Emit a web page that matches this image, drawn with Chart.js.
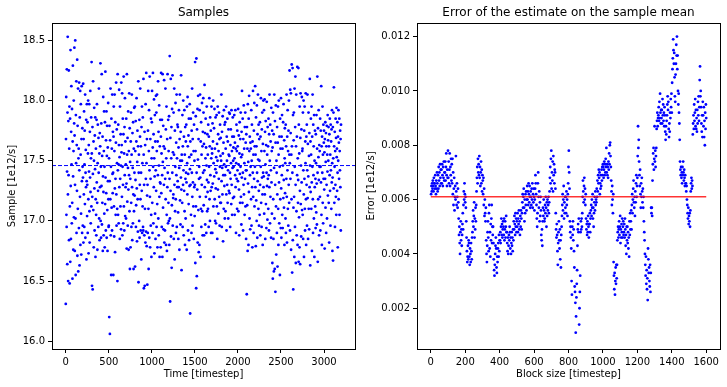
<!DOCTYPE html>
<html>
<head>
<meta charset="utf-8">
<script src="https://cdn.jsdelivr.net/npm/chart.js@4.4.0/dist/chart.umd.min.js"></script>
<style>
  html, body { margin: 0; padding: 0; background: #fff; }
  #wrap { position: relative; width: 727px; height: 387px; }
  canvas { position: absolute; top: 0; }
</style>
</head>
<body>
<div id="wrap">
  <canvas id="samplesChart" width="363" height="387" style="left:0"></canvas>
  <canvas id="errorChart" width="364" height="387" style="left:363px"></canvas>
</div>
<script>
// left panel: one sample every 2.5 timesteps (20 per row = 50 timesteps)
var sampleStep = 2.5;
var sampleValues = [
  16.31,17.68,18.03,17.05,16.95,18.26,17.41,16.64,17.90,18.53,17.22,16.50,17.83,17.38,18.25,16.84,17.60,17.95,16.48,17.12,
  17.85,16.66,18.42,17.29,16.85,17.74,18.12,17.47,16.98,17.93,17.15,16.52,17.66,18.29,17.37,16.76,17.58,18.00,17.03,17.81,
  18.44,17.71,16.75,17.30,18.50,17.02,16.55,17.88,17.48,18.16,16.90,17.63,17.25,18.34,16.71,17.79,17.10,18.10,16.58,17.52,
  17.60,16.94,18.15,17.42,16.63,17.86,17.20,18.08,16.80,17.55,17.97,17.06,16.72,17.68,18.12,17.33,16.90,17.77,17.45,16.96,
  17.36,18.14,16.82,17.68,17.22,17.91,16.95,17.47,17.75,17.14,18.05,16.86,17.40,17.59,17.28,17.84,16.68,17.33,17.97,17.04,
  17.30,17.82,16.90,17.56,18.00,17.18,16.73,17.63,17.41,17.97,17.08,16.82,17.74,17.36,18.08,17.24,16.98,17.52,17.86,17.12,
  18.32,17.56,16.46,17.20,17.78,16.43,17.39,18.16,17.09,17.66,16.78,17.50,17.94,17.27,16.92,17.71,17.43,17.86,16.70,17.18,
  17.60,17.05,16.88,17.84,17.32,17.97,17.15,16.76,17.48,17.80,17.25,16.95,17.69,17.40,18.10,17.02,17.56,16.84,17.73,17.28,
  17.62,18.31,17.00,17.45,16.86,17.81,17.29,18.22,16.97,17.54,17.15,17.70,16.75,17.37,18.03,17.24,16.88,17.58,17.91,17.06,
  17.45,16.78,17.82,17.14,18.24,17.36,16.92,17.67,17.23,17.91,16.86,17.54,17.79,17.09,16.75,17.61,17.33,17.98,17.18,16.95,
  16.96,17.52,16.20,17.79,17.33,16.06,17.67,17.18,18.10,16.88,17.45,16.55,17.85,17.11,17.60,16.92,18.05,17.39,17.23,17.74,
  17.40,16.55,17.70,17.95,17.12,16.87,17.58,18.05,17.27,16.74,17.82,17.35,17.05,17.65,18.15,17.22,16.96,17.76,17.48,17.10,
  16.50,18.22,17.42,17.05,17.80,17.47,16.98,17.63,18.09,17.28,17.53,16.85,17.95,17.35,17.12,17.72,17.46,16.93,18.15,17.57,
  17.63,17.20,18.06,16.88,17.45,17.85,17.30,16.98,17.72,18.20,17.12,17.56,16.92,17.78,17.38,18.02,17.04,17.66,17.28,17.47,
  17.02,17.85,17.31,16.77,18.22,17.55,17.16,17.69,16.96,17.44,17.91,17.26,16.76,17.58,17.38,18.06,17.08,17.77,16.60,17.49,
  17.35,16.78,17.66,17.90,17.15,16.95,17.55,18.05,17.28,16.84,17.73,17.44,16.98,17.82,17.22,16.60,17.60,17.08,17.94,17.40,
  17.21,17.95,16.62,17.58,17.34,17.83,16.95,17.13,17.66,18.02,17.27,16.83,17.49,17.75,17.18,16.91,17.62,18.16,16.49,17.40,
  17.55,17.00,17.84,16.86,17.30,17.70,18.10,17.18,16.92,17.62,17.40,16.68,17.78,17.25,17.95,16.90,17.48,17.12,17.86,16.95,
  16.92,18.18,17.55,16.44,17.30,16.88,17.74,16.46,17.10,17.63,16.82,17.97,17.35,16.91,18.23,17.48,16.79,17.68,17.21,16.47,
  17.30,16.90,17.75,18.08,17.10,16.60,17.58,17.92,16.86,17.42,18.20,17.20,16.78,17.68,17.35,16.96,17.85,17.05,16.70,17.52,
  17.82,18.08,17.15,16.90,17.61,18.23,17.45,16.98,17.72,17.28,18.01,17.52,16.73,17.37,17.88,17.06,17.66,16.85,17.42,18.04,
  17.25,17.90,16.95,17.58,18.05,17.14,16.78,17.66,17.38,18.16,17.02,17.74,16.88,17.46,17.96,17.20,16.70,17.62,17.32,17.84,
  17.31,16.78,17.70,18.23,17.23,17.56,16.95,17.84,17.38,16.70,18.22,17.49,17.11,17.79,16.93,17.62,17.30,18.17,16.82,17.44,
  17.60,16.92,17.35,18.10,17.18,17.76,16.80,17.52,17.95,17.05,16.75,17.68,17.28,18.22,17.40,16.98,17.84,17.15,17.58,17.00,
  17.87,16.80,17.35,18.37,17.02,16.33,17.69,17.25,18.18,16.87,17.52,17.78,16.61,17.13,17.93,17.40,18.21,16.96,17.57,17.19,
  17.22,17.90,16.85,17.55,18.10,17.30,16.68,17.75,17.08,17.45,17.98,17.18,16.90,17.65,17.38,18.05,16.95,17.52,17.28,17.80,
  17.33,17.78,17.07,16.85,17.61,17.28,17.92,17.44,16.76,17.68,18.05,17.17,17.50,16.97,17.74,17.36,18.21,17.26,16.59,17.55,
  17.50,17.15,17.88,16.95,17.62,17.30,18.00,17.42,16.88,17.70,17.25,17.92,17.08,17.55,16.80,17.78,17.35,17.02,17.66,17.40,
  17.80,17.32,16.76,17.95,17.48,17.22,18.03,17.62,16.92,17.39,17.71,17.14,17.85,16.84,17.53,17.29,17.97,17.43,16.23,17.66,
  17.30,17.85,17.05,17.55,16.90,17.75,17.40,18.10,17.20,16.96,17.68,17.32,17.90,17.12,17.58,16.85,17.80,17.28,17.50,17.04,
  17.30,18.32,16.65,17.58,17.87,17.12,16.44,18.35,17.40,16.54,17.76,17.26,17.93,16.82,17.51,18.04,17.09,17.68,16.74,17.35,
  17.45,16.80,17.92,17.20,18.05,17.36,16.70,17.66,17.10,17.82,16.95,17.55,17.30,17.98,17.08,17.62,16.88,17.74,17.40,18.02,
  17.90,17.13,17.64,16.88,17.42,18.13,17.28,17.73,16.97,17.52,17.85,17.20,17.61,16.90,17.46,17.95,17.34,17.08,17.72,17.24,
  17.55,17.10,17.80,17.32,16.95,17.70,17.45,18.02,17.18,17.62,17.00,17.86,17.38,17.25,17.75,16.90,17.52,17.95,17.28,17.60,
  17.56,16.90,17.81,17.31,17.66,18.00,17.12,17.48,16.70,17.77,17.37,17.93,17.18,17.60,17.00,17.43,17.86,17.27,16.98,17.53,
  17.40,17.88,17.12,17.64,16.85,17.50,17.95,17.26,17.72,17.06,17.58,17.35,17.90,17.20,17.68,16.96,17.45,17.80,17.15,17.54,
  17.69,17.15,17.50,18.05,17.33,16.95,17.74,17.44,17.22,17.87,17.56,16.83,17.38,17.65,17.10,17.92,17.47,17.29,17.80,17.02,
  17.38,17.82,17.08,17.60,17.45,17.95,17.22,16.92,17.70,17.50,17.30,17.85,17.15,17.66,17.42,17.02,17.76,17.55,17.25,17.90,
  17.54,17.23,17.89,17.40,16.95,17.63,17.35,17.76,17.48,17.14,17.92,17.30,17.58,17.05,17.70,17.44,17.86,17.19,17.50,17.61,
  17.45,17.70,17.20,17.88,17.52,17.05,17.65,17.38,17.92,17.28,17.60,16.90,17.48,17.80,17.35,17.58,17.10,17.75,17.42,17.62,
  17.33,17.93,17.08,17.47,17.71,17.26,16.88,17.56,17.82,17.39,17.15,17.68,17.45,17.90,17.20,17.53,16.97,17.74,17.36,18.08,
  17.55,17.15,17.85,17.40,16.92,17.68,17.30,17.96,17.22,17.60,17.48,17.05,17.78,17.35,17.90,17.12,17.65,17.42,16.85,17.72,
  17.42,16.39,17.78,17.13,17.60,16.75,17.97,17.31,17.49,16.80,17.85,17.24,18.04,17.58,17.02,17.70,17.38,16.93,17.65,17.45,
  17.60,17.18,17.92,16.96,17.50,17.80,17.28,16.78,17.66,17.40,18.08,17.20,17.55,16.90,17.75,17.35,17.98,17.12,17.62,17.45,
  18.12,17.28,17.55,16.79,17.86,17.17,17.62,17.00,17.96,17.40,16.86,17.72,17.33,18.05,17.51,17.10,17.80,17.25,16.96,17.68,
  17.50,17.05,17.82,17.30,16.88,17.70,17.45,18.02,17.15,17.58,16.95,17.76,17.36,17.90,17.22,16.80,17.64,17.40,18.00,17.28,
  17.37,17.92,17.06,17.58,18.01,17.22,17.74,16.85,17.47,17.83,17.14,17.63,16.94,17.40,17.99,17.29,17.55,17.01,17.78,17.35,
  17.62,17.10,17.85,17.38,16.92,17.72,17.28,18.05,17.50,16.98,17.80,17.20,17.66,17.42,16.86,17.94,17.32,17.58,17.06,17.75,
  16.65,17.61,16.52,17.90,17.18,16.85,17.72,16.58,17.44,18.05,17.02,16.60,17.83,17.30,16.41,17.65,17.96,17.12,16.72,17.50,
  17.40,16.90,17.78,17.22,16.62,17.65,17.95,17.10,16.80,17.55,18.00,17.32,16.98,17.70,17.45,16.55,17.85,17.18,17.60,16.94,
  18.02,17.27,16.86,17.70,17.38,17.88,17.05,17.60,16.94,17.46,17.82,17.19,17.97,17.34,17.11,17.67,16.80,17.52,17.77,17.23,
  17.48,17.02,17.80,16.90,17.62,17.35,18.05,17.20,16.82,17.70,17.42,17.92,17.10,17.58,16.96,17.75,17.30,18.00,17.15,17.55,
  18.25,17.48,16.92,18.09,17.35,17.73,18.06,16.76,17.55,17.18,18.30,17.62,16.57,17.40,18.27,16.84,17.88,16.43,17.11,17.67,
  17.90,17.20,16.70,18.10,17.45,16.95,17.78,18.20,17.30,16.65,17.62,18.05,17.08,16.88,17.70,17.38,18.28,16.80,17.52,17.15,
  17.34,18.27,16.66,17.80,17.03,17.56,16.78,17.95,17.25,16.64,17.69,18.06,17.14,17.46,16.87,17.76,17.32,18.03,17.09,17.58,
  17.60,17.05,17.90,16.85,17.42,18.00,17.22,16.70,17.75,17.35,17.95,17.10,16.92,17.66,17.48,18.06,17.18,16.80,17.70,17.30,
  17.80,16.96,17.42,18.05,17.19,17.64,16.85,17.37,17.90,17.10,17.54,16.93,17.73,17.28,18.18,17.46,16.63,17.66,17.24,17.85,
  17.55,17.10,17.95,17.32,16.75,17.70,17.45,18.05,17.18,16.90,17.80,17.38,17.62,17.02,17.88,16.70,17.50,17.28,17.75,17.12,
  17.35,16.94,17.72,17.48,17.07,17.88,17.31,16.97,17.60,18.20,17.40,16.66,17.77,17.18,17.53,17.92,17.34,16.88,17.63,17.45,
  17.58,17.20,17.85,16.92,17.45,17.75,17.32,18.12,17.05,17.62,16.80,17.70,17.40,17.95,17.15,17.55,16.98,17.80,17.35,17.65,
  17.75,17.26,17.57,16.77,17.68,17.35,17.82,17.11,17.49,17.73,16.90,17.62,17.30,17.79,17.02,17.55,17.41,17.88,17.21,17.67,
  17.50,17.78,17.15,17.62,16.82,17.72,17.38,17.85,17.25,17.55,16.96,17.80,17.42,17.66,17.10,17.76,17.32,17.92,17.48,16.75,
  17.36,17.78,16.67,17.52,17.90,17.27,18.11,17.62,17.15,17.45,17.74,16.95,17.58,17.30,17.85,17.20,17.69,17.05,17.94,17.53,
  17.60,17.25,17.82,17.40,16.78,17.70,17.50,17.92,17.18,17.65,17.35,17.85,17.05,17.58,17.42,17.75,17.28,17.68,16.92,17.80
];
var sampleMean = 17.46;
var sampleTicksX = [0, 500, 1000, 1500, 2000, 2500, 3000];
var sampleTicksY = [16.0, 16.5, 17.0, 17.5, 18.0, 18.5];

// right panel: block sizes 2, 4, ... 1600 (10 per row = 20 timesteps)
var blockStep = 2;
var errorValues = [
  0.0062,0.0065,0.0063,0.0066,0.0064,0.0067,0.0065,0.0063,0.0068,0.0066,
  0.0066,0.0064,0.0069,0.0065,0.0062,0.0067,0.0064,0.0070,0.0066,0.0063,
  0.0069,0.0064,0.0072,0.0067,0.0070,0.0065,0.0073,0.0068,0.0071,0.0066,
  0.0071,0.0066,0.0073,0.0069,0.0065,0.0072,0.0068,0.0074,0.0067,0.0070,
  0.0070,0.0074,0.0067,0.0072,0.0077,0.0069,0.0065,0.0071,0.0068,0.0078,
  0.0068,0.0074,0.0066,0.0071,0.0077,0.0065,0.0072,0.0069,0.0075,0.0067,
  0.0073,0.0066,0.0075,0.0062,0.0070,0.0058,0.0064,0.0068,0.0056,0.0061,
  0.0065,0.0060,0.0076,0.0063,0.0058,0.0066,0.0061,0.0057,0.0064,0.0059,
  0.0053,0.0047,0.0050,0.0044,0.0040,0.0048,0.0052,0.0045,0.0049,0.0043,
  0.0047,0.0051,0.0055,0.0049,0.0058,0.0063,0.0060,0.0066,0.0062,0.0059,
  0.0061,0.0057,0.0052,0.0046,0.0041,0.0037,0.0039,0.0043,0.0038,0.0045,
  0.0044,0.0039,0.0036,0.0042,0.0040,0.0037,0.0044,0.0041,0.0038,0.0046,
  0.0048,0.0052,0.0056,0.0050,0.0054,0.0059,0.0046,0.0053,0.0049,0.0057,
  0.0052,0.0058,0.0063,0.0068,0.0072,0.0066,0.0075,0.0070,0.0073,0.0069,
  0.0076,0.0068,0.0072,0.0065,0.0070,0.0074,0.0066,0.0071,0.0063,0.0069,
  0.0067,0.0062,0.0068,0.0058,0.0064,0.0054,0.0060,0.0055,0.0052,0.0057,
  0.0045,0.0040,0.0037,0.0043,0.0048,0.0052,0.0046,0.0041,0.0055,0.0058,
  0.0042,0.0048,0.0039,0.0051,0.0045,0.0053,0.0058,0.0044,0.0050,0.0047,
  0.0050,0.0044,0.0038,0.0034,0.0032,0.0036,0.0040,0.0043,0.0046,0.0042,
  0.0035,0.0033,0.0039,0.0037,0.0042,0.0044,0.0039,0.0047,0.0041,0.0045,
  0.0045,0.0048,0.0044,0.0050,0.0053,0.0047,0.0051,0.0046,0.0049,0.0052,
  0.0050,0.0047,0.0053,0.0045,0.0049,0.0052,0.0046,0.0050,0.0054,0.0048,
  0.0048,0.0044,0.0041,0.0046,0.0040,0.0043,0.0047,0.0045,0.0050,0.0048,
  0.0042,0.0046,0.0040,0.0044,0.0048,0.0043,0.0046,0.0041,0.0049,0.0045,
  0.0052,0.0049,0.0054,0.0051,0.0047,0.0055,0.0050,0.0053,0.0048,0.0052,
  0.0050,0.0055,0.0048,0.0053,0.0051,0.0056,0.0049,0.0052,0.0047,0.0054,
  0.0050,0.0056,0.0053,0.0049,0.0055,0.0059,0.0062,0.0057,0.0061,0.0064,
  0.0057,0.0052,0.0060,0.0055,0.0062,0.0058,0.0063,0.0056,0.0060,0.0065,
  0.0060,0.0063,0.0058,0.0066,0.0062,0.0059,0.0065,0.0061,0.0057,0.0063,
  0.0061,0.0058,0.0064,0.0060,0.0066,0.0057,0.0062,0.0059,0.0064,0.0061,
  0.0056,0.0060,0.0064,0.0069,0.0066,0.0062,0.0058,0.0053,0.0050,0.0055,
  0.0066,0.0070,0.0061,0.0057,0.0063,0.0052,0.0059,0.0054,0.0061,0.0056,
  0.0047,0.0045,0.0049,0.0043,0.0052,0.0057,0.0054,0.0060,0.0056,0.0052,
  0.0053,0.0058,0.0055,0.0061,0.0057,0.0050,0.0059,0.0054,0.0060,0.0056,
  0.0058,0.0061,0.0055,0.0059,0.0063,0.0068,0.0072,0.0066,0.0075,0.0078,
  0.0064,0.0070,0.0067,0.0074,0.0063,0.0076,0.0069,0.0073,0.0066,0.0071,
  0.0070,0.0064,0.0055,0.0049,0.0046,0.0051,0.0047,0.0041,0.0036,0.0044,
  0.0048,0.0052,0.0045,0.0042,0.0049,0.0038,0.0045,0.0035,0.0047,0.0050,
  0.0054,0.0058,0.0062,0.0056,0.0060,0.0065,0.0053,0.0059,0.0055,0.0061,
  0.0057,0.0061,0.0055,0.0063,0.0058,0.0060,0.0054,0.0062,0.0066,0.0072,
  0.0078,0.0070,0.0064,0.0052,0.0048,0.0050,0.0046,0.0042,0.0030,0.0025,
  0.0050,0.0047,0.0052,0.0045,0.0049,0.0041,0.0035,0.0028,0.0026,0.0022,
  0.0011,0.0017,0.0024,0.0029,0.0034,0.0043,0.0049,0.0051,0.0048,0.0053,
  0.0014,0.0020,0.0026,0.0032,0.0048,0.0052,0.0049,0.0053,0.0050,0.0055,
  0.0061,0.0067,0.0063,0.0059,0.0065,0.0068,0.0060,0.0064,0.0058,0.0062,
  0.0053,0.0049,0.0051,0.0047,0.0052,0.0048,0.0054,0.0050,0.0046,0.0051,
  0.0051,0.0055,0.0048,0.0053,0.0056,0.0058,0.0054,0.0060,0.0057,0.0062,
  0.0053,0.0057,0.0050,0.0055,0.0059,0.0061,0.0056,0.0063,0.0058,0.0060,
  0.0059,0.0064,0.0061,0.0067,0.0063,0.0069,0.0066,0.0071,0.0068,0.0070,
  0.0062,0.0066,0.0064,0.0069,0.0065,0.0071,0.0067,0.0072,0.0069,0.0073,
  0.0072,0.0068,0.0071,0.0074,0.0069,0.0073,0.0070,0.0075,0.0072,0.0079,
  0.0070,0.0073,0.0069,0.0072,0.0068,0.0074,0.0071,0.0077,0.0073,0.0080,
  0.0081,0.0076,0.0072,0.0067,0.0063,0.0058,0.0065,0.0060,0.0055,0.0062,
  0.0037,0.0032,0.0027,0.0033,0.0025,0.0030,0.0035,0.0029,0.0036,0.0031,
  0.0036,0.0045,0.0048,0.0050,0.0046,0.0049,0.0052,0.0047,0.0050,0.0054,
  0.0044,0.0049,0.0046,0.0051,0.0048,0.0053,0.0046,0.0050,0.0052,0.0047,
  0.0048,0.0051,0.0046,0.0053,0.0049,0.0043,0.0047,0.0040,0.0050,0.0045,
  0.0050,0.0044,0.0048,0.0042,0.0046,0.0039,0.0052,0.0047,0.0055,0.0049,
  0.0052,0.0056,0.0049,0.0058,0.0062,0.0055,0.0060,0.0064,0.0067,0.0059,
  0.0057,0.0061,0.0054,0.0063,0.0059,0.0066,0.0069,0.0061,0.0065,0.0068,
  0.0076,0.0087,0.0079,0.0082,0.0074,0.0069,0.0065,0.0071,0.0062,0.0057,
  0.0066,0.0061,0.0068,0.0063,0.0059,0.0064,0.0057,0.0061,0.0052,0.0048,
  0.0045,0.0040,0.0036,0.0032,0.0039,0.0029,0.0034,0.0027,0.0031,0.0023,
  0.0042,0.0038,0.0033,0.0035,0.0030,0.0028,0.0036,0.0026,0.0033,0.0057,
  0.0055,0.0057,0.0054,0.0067,0.0073,0.0077,0.0079,0.0071,0.0075,0.0087,
  0.0074,0.0078,0.0072,0.0076,0.0079,0.0086,0.0089,0.0092,0.0087,0.0090,
  0.0091,0.0094,0.0089,0.0096,0.0090,0.0099,0.0092,0.0088,0.0093,0.0090,
  0.0093,0.0088,0.0097,0.0091,0.0095,0.0089,0.0092,0.0087,0.0094,0.0091,
  0.0085,0.0082,0.0087,0.0084,0.0089,0.0091,0.0095,0.0098,0.0093,0.0096,
  0.0086,0.0083,0.0088,0.0085,0.0092,0.0090,0.0097,0.0094,0.0099,0.0092,
  0.0103,0.0108,0.0112,0.0119,0.0115,0.0110,0.0114,0.0105,0.0098,0.0096,
  0.0106,0.0110,0.0117,0.0113,0.0120,0.0108,0.0113,0.0100,0.0095,0.0099,
  0.0092,0.0088,0.0082,0.0074,0.0071,0.0069,0.0072,0.0068,0.0070,0.0066,
  0.0072,0.0069,0.0074,0.0070,0.0067,0.0071,0.0068,0.0065,0.0069,0.0066,
  0.0066,0.0063,0.0065,0.0060,0.0058,0.0055,0.0053,0.0057,0.0051,0.0054,
  0.0052,0.0055,0.0050,0.0056,0.0063,0.0066,0.0068,0.0064,0.0067,0.0065,
  0.0084,0.0088,0.0091,0.0086,0.0095,0.0089,0.0092,0.0097,0.0087,0.0093,
  0.0086,0.0090,0.0085,0.0093,0.0088,0.0096,0.0091,0.0098,0.0089,0.0094,
  0.0104,0.0109,0.0098,0.0100,0.0094,0.0088,0.0085,0.0091,0.0083,0.0096,
  0.0091,0.0087,0.0094,0.0083,0.0089,0.0080,0.0092,0.0086,0.0095,0.0090
];
var errorMean = 0.0061;
var blockTicksX = [0, 200, 400, 600, 800, 1000, 1200, 1400, 1600];
var errorTicksY = [0.002, 0.004, 0.006, 0.008, 0.010, 0.012];

Chart.defaults.font.family = "'DejaVu Sans', sans-serif";
Chart.defaults.font.size = 10;
Chart.defaults.color = "#000";

// matplotlib style box round the plot area
var framePlugin = {
  id: "frame",
  afterDraw: function (chart) {
    var a = chart.chartArea, ctx = chart.ctx;
    ctx.save();
    ctx.strokeStyle = "#000";
    ctx.lineWidth = 1;
    ctx.strokeRect(Math.round(a.left) + 0.5, Math.round(a.top) + 0.5,
      Math.round(a.right - a.left), Math.round(a.bottom - a.top));
    ctx.restore();
  },
};

function makeAxis(min, max, ticks, label, digits, fit, titlePad) {
  return {
    type: "linear",
    min: min,
    max: max,
    afterBuildTicks: function (scale) {
      scale.ticks = ticks.map(function (v) { return { value: v }; });
    },
    afterFit: fit,
    border: { display: false },
    grid: {
      display: true,
      drawOnChartArea: false,
      drawTicks: true,
      tickLength: 4,
      tickColor: "#000",
      tickWidth: 1,
    },
    ticks: {
      padding: 3,
      color: "#000",
      autoSkip: false,
      maxRotation: 0,
      callback: function (v) { return digits == null ? v : Number(v).toFixed(digits); },
    },
    title: { display: true, text: label, color: "#000", padding: titlePad },
  };
}

function panelOptions(title, xAxis, yAxis, padRight) {
  return {
    responsive: false,
    animation: false,
    devicePixelRatio: 1,
    layout: { padding: { left: 0, right: padRight, top: 0, bottom: 0 } },
    plugins: {
      legend: { display: false },
      tooltip: { enabled: false },
      title: {
        display: true,
        text: title,
        fullSize: false,
        color: "#000",
        font: { size: 12, weight: "normal" },
        padding: { top: 6, bottom: 2.6 },
      },
    },
    scales: { x: xAxis, y: yAxis },
  };
}

var samplePoints = sampleValues.map(function (v, i) { return { x: i * sampleStep, y: v }; });
var errorPoints = errorValues.map(function (v, i) { return { x: (i + 1) * blockStep, y: v }; });

new Chart("samplesChart", {
  type: "scatter",
  data: {
    datasets: [
      {
        data: [{ x: -160, y: sampleMean }, { x: 3360, y: sampleMean }],
        showLine: true,
        borderColor: "#0000ff",
        borderWidth: 1,
        borderDash: [4, 2],
        pointRadius: 0,
      },
      {
        data: samplePoints,
        backgroundColor: "#0000ff",
        pointRadius: 1.4,
        pointBorderWidth: 0,
      },
    ],
  },
  options: panelOptions(
    "Samples",
    makeAxis(-160, 3360, sampleTicksX, "Time [timestep]", null,
      function (s) { s.height = 38; }, { top: 0, bottom: 7 }),
    makeAxis(15.935, 18.645, sampleTicksY, "Sample [1e12/s]", 1,
      function (s) { s.width = 52; }, { top: 6, bottom: 0 }),
    8
  ),
  plugins: [framePlugin],
});

new Chart("errorChart", {
  type: "scatter",
  data: {
    datasets: [
      {
        data: [{ x: 0, y: errorMean }, { x: 1600, y: errorMean }],
        showLine: true,
        borderColor: "rgba(255,0,0,0.8)",
        borderWidth: 1.5,
        pointRadius: 0,
      },
      {
        data: errorPoints,
        backgroundColor: "#0000ff",
        pointRadius: 1.4,
        pointBorderWidth: 0,
      },
    ],
  },
  options: panelOptions(
    "Error of the estimate on the sample mean",
    makeAxis(-80, 1680, blockTicksX, "Block size [timestep]", null,
      function (s) { s.height = 38; }, { top: 0, bottom: 7 }),
    makeAxis(0.0005, 0.0125, errorTicksY, "Error [1e12/s]", 3,
      function (s) { s.width = 54; }, { top: 2, bottom: 0 }),
    7
  ),
  plugins: [framePlugin],
});
</script>
</body>
</html>
